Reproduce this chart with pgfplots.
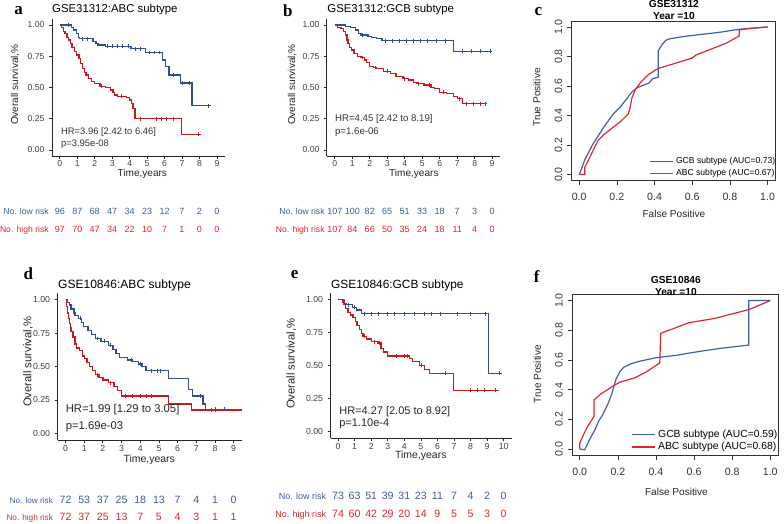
\documentclass[border=0pt]{standalone}
\usepackage{pgfplots}
\pgfplotsset{compat=1.18}
\usepackage{fontspec}
\setmainfont{Liberation Sans}
\newfontfamily\serifb{Liberation Serif}
\newcommand{\fs}[1]{\fontsize{#1}{#1}\selectfont}
\definecolor{kmblue}{HTML}{2E4F93}
\definecolor{kmred}{HTML}{C8191E}
\definecolor{rtblue}{HTML}{3C5A9A}
\definecolor{rtred}{HTML}{D9262B}
\definecolor{rocblue}{HTML}{3B5FA6}
\definecolor{rocred}{HTML}{E0262B}
\pgfplotsset{
  km/.style={scale only axis, anchor=south west,
    axis x line*=bottom, axis y line*=left,
    axis line style={-, line width=0.7pt, black!85},
    tick align=outside, major tick length=2.2pt,
    every tick/.style={black!85, line width=0.6pt},
    ymin=-0.05, ymax=1.05, ytick={0,0.25,0.5,0.75,1},
    /pgf/number format/assume math mode=true,
    yticklabel style={/pgf/number format/fixed, /pgf/number format/fixed zerofill, /pgf/number format/precision=2},
    tick label style={text=black!75},
    clip=false},
  kmc/.style={#1, line width=1.0pt, const plot},
  kmm/.style={#1, only marks, mark=+, mark size=1.5pt, mark options={line width=0.5pt}},
  roc/.style={scale only axis, anchor=south west,
    xmin=-0.04, xmax=1.04, ymin=-0.04, ymax=1.04,
    xtick={0,0.2,0.4,0.6,0.8,1}, ytick={0,0.2,0.4,0.6,0.8,1},
    tick pos=left, tick align=outside, major tick length=3.5pt,
    axis line style={line width=0.5pt, black!80},
    every tick/.style={black!80, line width=0.5pt},
    /pgf/number format/assume math mode=true,
    xticklabel style={yshift=-2.5pt, /pgf/number format/fixed, /pgf/number format/fixed zerofill, /pgf/number format/precision=1},
    yticklabel style={rotate=90, anchor=south, /pgf/number format/fixed, /pgf/number format/fixed zerofill, /pgf/number format/precision=1},
    tick label style={font=\fs{8}, text=black!80},
    legend cell align=left,
    legend image post style={line width=1pt}},
}
\begin{document}
\begin{tikzpicture}
\begin{scope}[x=0.75pt,y=-0.75pt]
\useasboundingbox (0,0) rectangle (784,527);
\end{scope}

% ---------- panel a ----------
\begin{axis}[km, at={(39.08pt,-117.75pt)}, width=130.4pt, height=103.7pt,
  xmin=-0.45, xmax=9.45, xtick={0,...,9}, tick label style={font=\fs{6.5}}, xticklabel style={yshift=2.6pt}]
\addplot[kmc=kmblue] coordinates {(0,1)(0.66,0.98)(0.8,0.96)(0.95,0.93)(1.05,0.90)(1.14,0.89)(1.89,0.87)(2.08,0.85)(2.18,0.84)(2.6,0.83)(4.07,0.81)(4.92,0.78)(5.87,0.72)(6.06,0.67)(6.25,0.60)(6.91,0.535)(7.58,0.355)(8.52,0.355)};
\addplot[kmc=kmred] coordinates {(0,1)(0.1,0.98)(0.2,0.95)(0.3,0.93)(0.4,0.90)(0.5,0.88)(0.6,0.85)(0.7,0.82)(0.85,0.79)(0.95,0.76)(1.1,0.73)(1.2,0.69)(1.3,0.65)(1.4,0.62)(1.5,0.60)(1.65,0.57)(1.8,0.55)(2.0,0.53)(2.3,0.51)(2.6,0.50)(2.9,0.48)(3.05,0.46)(3.15,0.44)(3.3,0.43)(3.8,0.42)(4.0,0.40)(4.1,0.37)(4.2,0.33)(4.3,0.25)(6.97,0.125)(7.95,0.125)};
\addplot[kmm=kmblue] coordinates {(0.5,1)(1.3,0.89)(1.6,0.89)(2.7,0.83)(3.0,0.83)(3.3,0.83)(3.6,0.83)(3.9,0.83)(4.3,0.81)(4.6,0.81)(5.1,0.78)(5.4,0.78)(5.7,0.78)(6.5,0.60)(7.0,0.535)(7.4,0.535)(8.52,0.355)};
\addplot[kmm=kmred] coordinates {(2.4,0.51)(3.5,0.43)(4.6,0.25)(5.5,0.25)(5.8,0.25)(6.1,0.25)(6.5,0.25)(7.95,0.125)};
\end{axis}

% ---------- panel b ----------
\begin{axis}[km, at={(246.6pt,-117.75pt)}, width=130.65pt, height=103.7pt,
  xmin=-0.45, xmax=9.45, xtick={0,...,9}, tick label style={font=\fs{6.5}}, xticklabel style={yshift=2.6pt}]
\addplot[kmc=kmblue] coordinates {(0,1)(0.6,0.99)(0.9,0.98)(1.2,0.96)(1.35,0.93)(1.5,0.92)(1.9,0.91)(2.1,0.90)(2.4,0.89)(2.7,0.875)(6.8,0.79)(8.9,0.79)};
\addplot[kmc=kmred] coordinates {(0,1)(0.15,0.98)(0.35,0.97)(0.5,0.95)(0.6,0.92)(0.7,0.88)(0.75,0.85)(0.85,0.82)(0.95,0.80)(1.1,0.77)(1.3,0.75)(1.5,0.74)(1.7,0.72)(1.8,0.70)(2.0,0.67)(2.2,0.66)(2.4,0.65)(2.8,0.63)(3.2,0.61)(3.5,0.59)(3.9,0.57)(4.2,0.56)(4.5,0.54)(4.7,0.53)(5.1,0.52)(5.5,0.50)(5.7,0.49)(6.0,0.46)(6.4,0.45)(6.8,0.43)(7.0,0.41)(7.3,0.37)(8.6,0.37)};
\addplot[kmm=kmblue] coordinates {(1.6,0.92)(2.9,0.875)(3.3,0.875)(3.7,0.875)(4.1,0.875)(4.5,0.875)(4.9,0.875)(5.3,0.875)(5.8,0.875)(6.3,0.875)(7.3,0.79)(7.8,0.79)(8.3,0.79)(8.9,0.79)};
\addplot[kmm=kmred] coordinates {(1.6,0.74)(2.3,0.66)(3.0,0.63)(4.0,0.57)(4.8,0.53)(5.4,0.52)(6.2,0.46)(7.1,0.41)(7.5,0.37)(7.9,0.37)(8.3,0.37)(8.6,0.37)};
\end{axis}

% ---------- panel c ----------
\begin{axis}[roc, at={(431.3pt,-136.1pt)}, width=153.6pt, height=120.3pt,
  legend style={draw=none, fill=none, at={(1.035,-0.015)}, anchor=south east, font=\fs{6.5}, row sep=-1.5pt}]
\addplot[rocblue, line width=0.9pt] coordinates {(0,0)(0.01,0.03)(0.03,0.10)(0.07,0.2)(0.1,0.26)(0.13,0.32)(0.18,0.41)(0.22,0.46)(0.25,0.51)(0.28,0.56)(0.31,0.59)(0.35,0.61)(0.37,0.62)(0.39,0.65)(0.42,0.66)(0.42,0.84)(0.44,0.88)(0.46,0.91)(0.48,0.92)(0.55,0.935)(0.65,0.95)(0.75,0.965)(0.85,0.985)(0.95,0.995)(1,1)};
\addlegendentry{GCB subtype (AUC=0.73)}
\addplot[rocred, line width=0.9pt] coordinates {(0,0)(0.03,0.0)(0.03,0.05)(0.05,0.10)(0.08,0.18)(0.1,0.23)(0.13,0.27)(0.18,0.32)(0.22,0.36)(0.26,0.41)(0.27,0.45)(0.28,0.52)(0.3,0.58)(0.33,0.63)(0.37,0.68)(0.42,0.72)(0.5,0.75)(0.6,0.79)(0.62,0.81)(0.7,0.85)(0.78,0.89)(0.85,0.94)(0.85,0.98)(0.9,0.99)(1,1)};
\addlegendentry{ABC subtype (AUC=0.67)}
\end{axis}

% ---------- panel d ----------
\begin{axis}[km, at={(43.35pt,-332.0pt)}, width=139.2pt, height=110.9pt,
  xmin=-0.42, xmax=9.45, xtick={0,...,9}, tick label style={font=\fs{6.6}}, xticklabel style={yshift=1.6pt}]
\addplot[kmc=kmblue] coordinates {(0,1)(0.1,0.98)(0.2,0.96)(0.3,0.93)(0.45,0.90)(0.5,0.88)(0.7,0.86)(0.85,0.83)(0.95,0.80)(1.2,0.77)(1.4,0.74)(1.6,0.71)(1.9,0.69)(2.3,0.66)(2.55,0.63)(2.7,0.60)(2.9,0.57)(3.3,0.55)(3.6,0.54)(3.9,0.52)(4.1,0.50)(4.3,0.47)(5.5,0.41)(6.6,0.33)(6.8,0.28)(7.35,0.22)(7.5,0.18)(8.5,0.18)};
\addplot[kmc=kmred] coordinates {(0,1)(0.05,0.95)(0.1,0.90)(0.15,0.86)(0.2,0.82)(0.25,0.79)(0.3,0.76)(0.4,0.72)(0.5,0.67)(0.6,0.64)(0.75,0.62)(0.9,0.58)(1.0,0.56)(1.15,0.53)(1.3,0.50)(1.45,0.47)(1.6,0.44)(1.8,0.42)(2.0,0.40)(2.3,0.38)(2.6,0.35)(2.8,0.32)(3.0,0.28)(5.5,0.22)(6.75,0.175)(9.45,0.175)};
\addplot[kmm=kmblue] coordinates {(0.8,0.86)(1.7,0.71)(2.1,0.69)(2.4,0.66)(3.5,0.55)(4.0,0.52)(4.6,0.47)(4.9,0.47)(5.1,0.47)(7.2,0.28)(8.0,0.18)(8.5,0.18)};
\addplot[kmm=kmred] coordinates {(1.7,0.44)(2.4,0.38)(3.2,0.28)(3.6,0.28)(4.0,0.28)(4.3,0.28)(4.6,0.28)(7.8,0.175)(8.0,0.175)};
\end{axis}

% ---------- panel e ----------
\begin{axis}[km, at={(249.4pt,-330.5pt)}, width=136.9pt, height=109.7pt,
  xmin=-0.45, xmax=10.5, xtick={0,...,10}, tick label style={font=\fs{6.6}}, xticklabel style={yshift=1.6pt}]
\addplot[kmc=kmblue] coordinates {(0,1)(0.35,0.97)(0.5,0.96)(0.85,0.94)(1.1,0.92)(1.4,0.89)(9.1,0.44)(9.75,0.44)};
\addplot[kmc=kmred] coordinates {(0,1)(0.25,0.98)(0.35,0.96)(0.45,0.93)(0.6,0.90)(0.75,0.88)(0.9,0.86)(1.05,0.83)(1.15,0.80)(1.3,0.77)(1.4,0.74)(1.5,0.72)(1.7,0.70)(2.0,0.68)(2.4,0.67)(2.6,0.63)(2.75,0.60)(3.0,0.57)(4.3,0.55)(4.5,0.53)(4.9,0.50)(5.2,0.47)(5.5,0.44)(6.95,0.31)(9.7,0.31)};
\addplot[kmm=kmblue] coordinates {(0.6,0.96)(1.0,0.94)(1.6,0.89)(2.0,0.89)(2.4,0.89)(3.0,0.89)(3.4,0.89)(4.0,0.89)(4.6,0.89)(5.2,0.89)(5.6,0.89)(6.2,0.89)(7.2,0.89)(8.0,0.89)(8.9,0.89)(9.75,0.44)};
\addplot[kmm=kmred] coordinates {(1.6,0.72)(2.2,0.68)(2.5,0.67)(3.5,0.57)(4.0,0.57)(4.2,0.57)(5.0,0.50)(6.5,0.44)(8.0,0.31)(8.4,0.31)(8.8,0.31)(9.5,0.31)};
\end{axis}

% ---------- panel f ----------
\begin{axis}[roc, at={(431.7pt,-343.3pt)}, width=155.3pt, height=121.05pt,
  legend style={draw=none, fill=none, at={(1.031,-0.015)}, anchor=south east, font=\fs{7.8}, row sep=-1.5pt}]
\addplot[rocblue, line width=0.9pt] coordinates {(0,0)(0.026,-0.005)(0.05,0.06)(0.08,0.13)(0.1,0.19)(0.12,0.23)(0.15,0.31)(0.17,0.38)(0.19,0.47)(0.21,0.52)(0.23,0.55)(0.27,0.575)(0.31,0.59)(0.4,0.615)(0.5,0.63)(0.64,0.66)(0.75,0.68)(0.887,0.70)(0.887,1.0)(1,1)};
\addlegendentry{GCB subtype (AUC=0.59)}
\addplot[rocred, line width=0.9pt] coordinates {(0,0)(0.0,0.04)(0.017,0.09)(0.04,0.15)(0.075,0.22)(0.075,0.33)(0.11,0.37)(0.17,0.42)(0.21,0.45)(0.29,0.48)(0.35,0.52)(0.42,0.58)(0.425,0.78)(0.49,0.81)(0.57,0.85)(0.71,0.88)(0.8,0.91)(0.89,0.94)(1,1)};
\addlegendentry{ABC subtype (AUC=0.68)}
\end{axis}

% ---------- texts ----------
\begin{scope}[x=0.75pt,y=-0.75pt, every node/.style={inner sep=0pt}]
% panel letters
\node[font=\serifb\bfseries\fs{12.8}] at (18.5,11) {a};
\node[font=\serifb\bfseries\fs{12.8}] at (289.5,11) {b};
\node[font=\serifb\bfseries\fs{12.8}] at (541.5,11.7) {c};
\node[font=\serifb\bfseries\fs{12.8}] at (28.3,275.5) {d};
\node[font=\serifb\bfseries\fs{12.8}] at (296.3,276.3) {e};
\node[font=\serifb\bfseries\fs{12.8}] at (540,278) {f};
% panel a
\node[anchor=base west, font=\fs{8.6}] at (52,12.5) {GSE31312:ABC subtype};
\node[rotate=90, font=\fs{7.6}, text=black!85] at (15,85) {Overall survival,\%};
\node[font=\fs{7.6}, text=black!85] at (143,174.5) {Time,years};
\node[anchor=base west, font=\fs{7.1}, text=black!80] at (61,135) {HR=3.96 [2.42 to 6.46]};
\node[anchor=base west, font=\fs{7.1}, text=black!80] at (61,147) {p=3.95e-08};
\node[anchor=base east, font=\fs{6.5}, text=rtblue] at (49,216) {No. low risk};
\node[anchor=base east, font=\fs{6.5}, text=rtred] at (49,234) {No. high risk};
\foreach \v [count=\i from 0] in {96,87,68,47,34,23,12,7,2,0}
  \node[anchor=base, font=\fs{6.8}, text=rtblue] at (60+17.56*\i,216) {\v};
\foreach \v [count=\i from 0] in {97,70,47,34,22,10,7,1,0,0}
  \node[anchor=base, font=\fs{6.8}, text=rtred] at (60+17.56*\i,234) {\v};
% panel b
\node[anchor=base west, font=\fs{8.6}] at (329,12.5) {GSE31312:GCB subtype};
\node[rotate=90, font=\fs{7.6}, text=black!85] at (293.8,85) {Overall survival,\%};
\node[font=\fs{7.6}, text=black!85] at (416.3,174.5) {Time,years};
\node[anchor=base west, font=\fs{7.3}, text=black!80] at (336.7,122.3) {HR=4.45 [2.42 to 8.19]};
\node[anchor=base west, font=\fs{7.3}, text=black!80] at (336.7,135) {p=1.6e-06};
\node[anchor=base east, font=\fs{6.5}, text=rtblue] at (326.7,216) {No. low risk};
\node[anchor=base east, font=\fs{6.5}, text=rtred] at (326.7,234) {No. high risk};
\foreach \v [count=\i from 0] in {107,100,82,65,51,33,18,7,3,0}
  \node[anchor=base, font=\fs{6.8}, text=rtblue] at (336.7+17.6*\i,216) {\v};
\foreach \v [count=\i from 0] in {107,84,66,50,35,24,18,11,4,0}
  \node[anchor=base, font=\fs{6.8}, text=rtred] at (336.7+17.6*\i,234) {\v};
% panel c
\node[anchor=base, font=\bfseries\fs{7.7}] at (678,7) {GSE31312};
\node[anchor=base, font=\bfseries\fs{7.7}] at (678,19.5) {Year =10};
\node[rotate=90, font=\fs{7.6}, text=black!85] at (540,98) {True Positive};
\node[font=\fs{7.6}, text=black!85] at (678,215) {False Positive};
% panel d
\node[anchor=base west, font=\fs{9.1}] at (58,290) {GSE10846:ABC subtype};
\node[rotate=90, font=\fs{8.5}, text=black!85] at (28,364) {Overall survival,\%};
\node[font=\fs{7.9}, text=black!85] at (150,462.5) {Time,years};
\node[anchor=base west, font=\fs{8.5}, text=black!85] at (65.7,414.5) {HR=1.99 [1.29 to 3.05]};
\node[anchor=base west, font=\fs{8.5}, text=black!85] at (65.7,432) {p=1.69e-03};
\node[anchor=base east, font=\fs{6.2}, text=rtblue] at (53.3,507) {No. low risk};
\node[anchor=base east, font=\fs{6.2}, text=rtred] at (53.3,524) {No. high risk};
\foreach \v [count=\i from 0] in {72,53,37,25,18,13,7,4,1,0}
  \node[anchor=base, font=\fs{8}, text=rtblue] at (65.7+18.8*\i,507) {\v};
\foreach \v [count=\i from 0] in {72,37,25,13,7,5,4,3,1,1}
  \node[anchor=base, font=\fs{8}, text=rtred] at (65.7+18.8*\i,524) {\v};
% panel e
\node[anchor=base west, font=\fs{9}] at (332.7,290) {GSE10846:GCB subtype};
\node[rotate=90, font=\fs{8.5}, text=black!85] at (292.8,366) {Overall survival,\%};
\node[font=\fs{7.9}, text=black!85] at (423.3,458.5) {Time,years};
\node[anchor=base west, font=\fs{8.3}, text=black!85] at (341,416.5) {HR=4.27 [2.05 to 8.92]};
\node[anchor=base west, font=\fs{8.3}, text=black!85] at (341,429.5) {p=1.10e-4};
\node[anchor=base east, font=\fs{6.8}, text=rtblue] at (328.3,503) {No. low risk};
\node[anchor=base east, font=\fs{6.8}, text=rtred] at (328.3,520.5) {No. high risk};
\foreach \v [count=\i from 0] in {73,63,51,39,31,23,11,7,4,2,0}
  \node[anchor=base, font=\fs{8}, text=rtblue] at (340+16.67*\i,503) {\v};
\foreach \v [count=\i from 0] in {74,60,42,29,20,14,9,5,5,3,0}
  \node[anchor=base, font=\fs{8}, text=rtred] at (340+16.67*\i,520.5) {\v};
% panel f
\node[anchor=base, font=\bfseries\fs{7.7}] at (680,285) {GSE10846};
\node[anchor=base, font=\bfseries\fs{7.7}] at (680,297.3) {Year =10};
\node[rotate=90, font=\fs{7.6}, text=black!85] at (540.5,376.7) {True Positive};
\node[font=\fs{7.6}, text=black!85] at (680.5,494.7) {False Positive};
\end{scope}
\end{tikzpicture}
\end{document}
